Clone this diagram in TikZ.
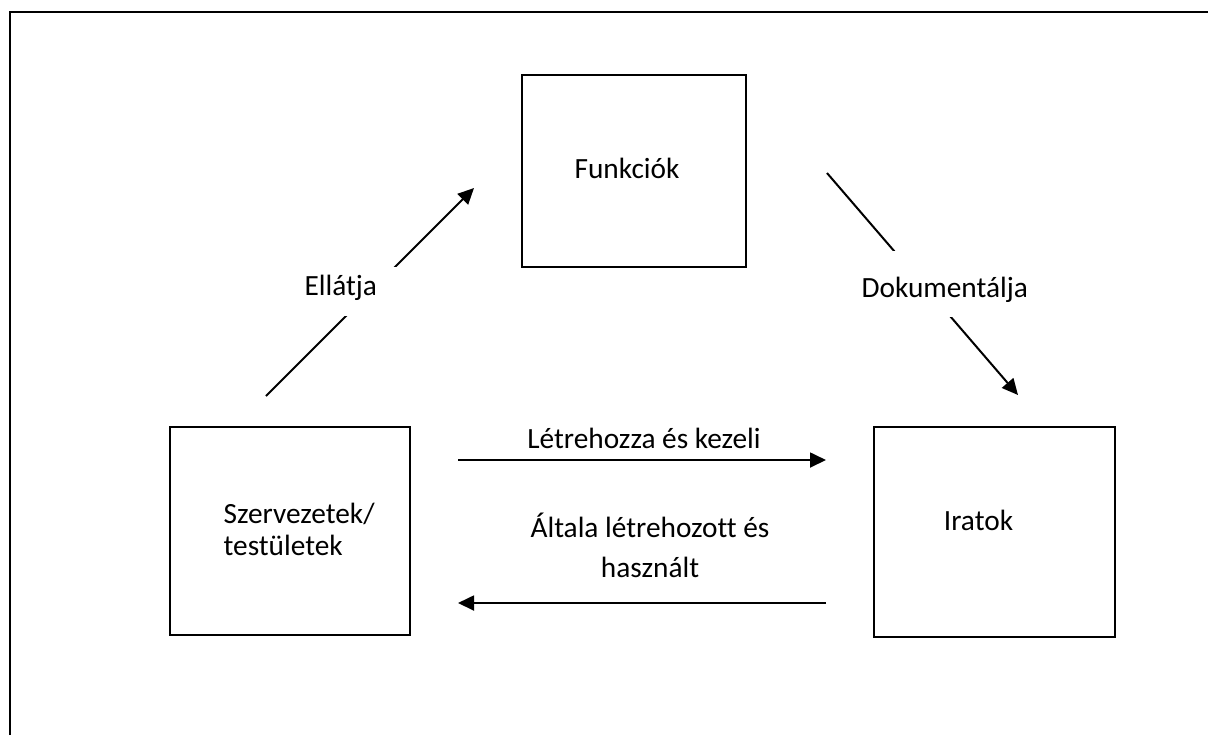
\documentclass[tikz,border=0pt]{standalone}
\usepackage{fontspec}
\setmainfont[Ligatures=NoCommon]{Carlito}
\usetikzlibrary{arrows.meta}

\begin{document}
\begin{tikzpicture}[x=0.375pt, y=-0.375pt,
  font=\fontsize{11pt}{12pt}\selectfont,
  box/.style={draw, line width=0.75pt, inner sep=0pt},
  arr/.style={line width=0.75pt, -{Triangle[length=6pt, width=5.6pt]}},
  gaplabel/.style={fill=white, anchor=base west, inner xsep=0pt, inner ysep=0pt, align=left}]
  \useasboundingbox (0,0) rectangle (1208,735);
  % page frame, cut off by the page edge
  \draw[line width=0.9pt] (10,735) -- (10,12) -- (1208,12);
  %
  \node[box, minimum width=84pt, minimum height=72pt,
        label={[name=funk-t, xshift=-2.6pt, yshift=1.1pt]center:Funkciók}] (funk) at (634,171) {};
  \node[box, minimum width=90pt, minimum height=78pt,
        label={[name=szerv-t, align=left, xshift=3.4pt, yshift=0.6pt]center:Szervezetek/\\testületek}] (szerv) at (290,531) {};
  \node[box, minimum width=90.4pt, minimum height=78.75pt,
        label={[name=irat-t, xshift=-6pt, yshift=4.5pt]center:Iratok}] (irat) at (994.5,532) {};
  %
  \coordinate (ell-a) at (266,396);
  \coordinate (ell-b) at (474,188);
  \draw[arr] (ell-a) -- (ell-b);
  \node[gaplabel, text width=35pt, text height=10.5pt, text depth=7.9pt] (ellatja) at (304,295) {Ellátja};
  %
  \coordinate (dok-a) at (827,173);
  \coordinate (dok-b) at (1018,395);
  \draw[arr] (dok-a) -- (dok-b);
  \node[gaplabel, text width=66pt, text height=17.25pt, text depth=7.5pt] (dokum) at (861,297) {Dokumentálja};
  %
  \coordinate (letre-a) at (458,460);
  \coordinate (letre-b) at (826,460);
  \draw[arr] (letre-a) -- (letre-b);
  \node[anchor=base] (letre) at (644,448) {Létrehozza és kezeli};
  %
  \coordinate (alt-a) at (826,603);
  \coordinate (alt-b) at (458,603);
  \draw[arr] (alt-a) -- (alt-b);
  \node[align=center, font=\fontsize{11pt}{15pt}\selectfont] (altala) at (650,545) {Általa létrehozott és\\használt};
\end{tikzpicture}
\end{document}
